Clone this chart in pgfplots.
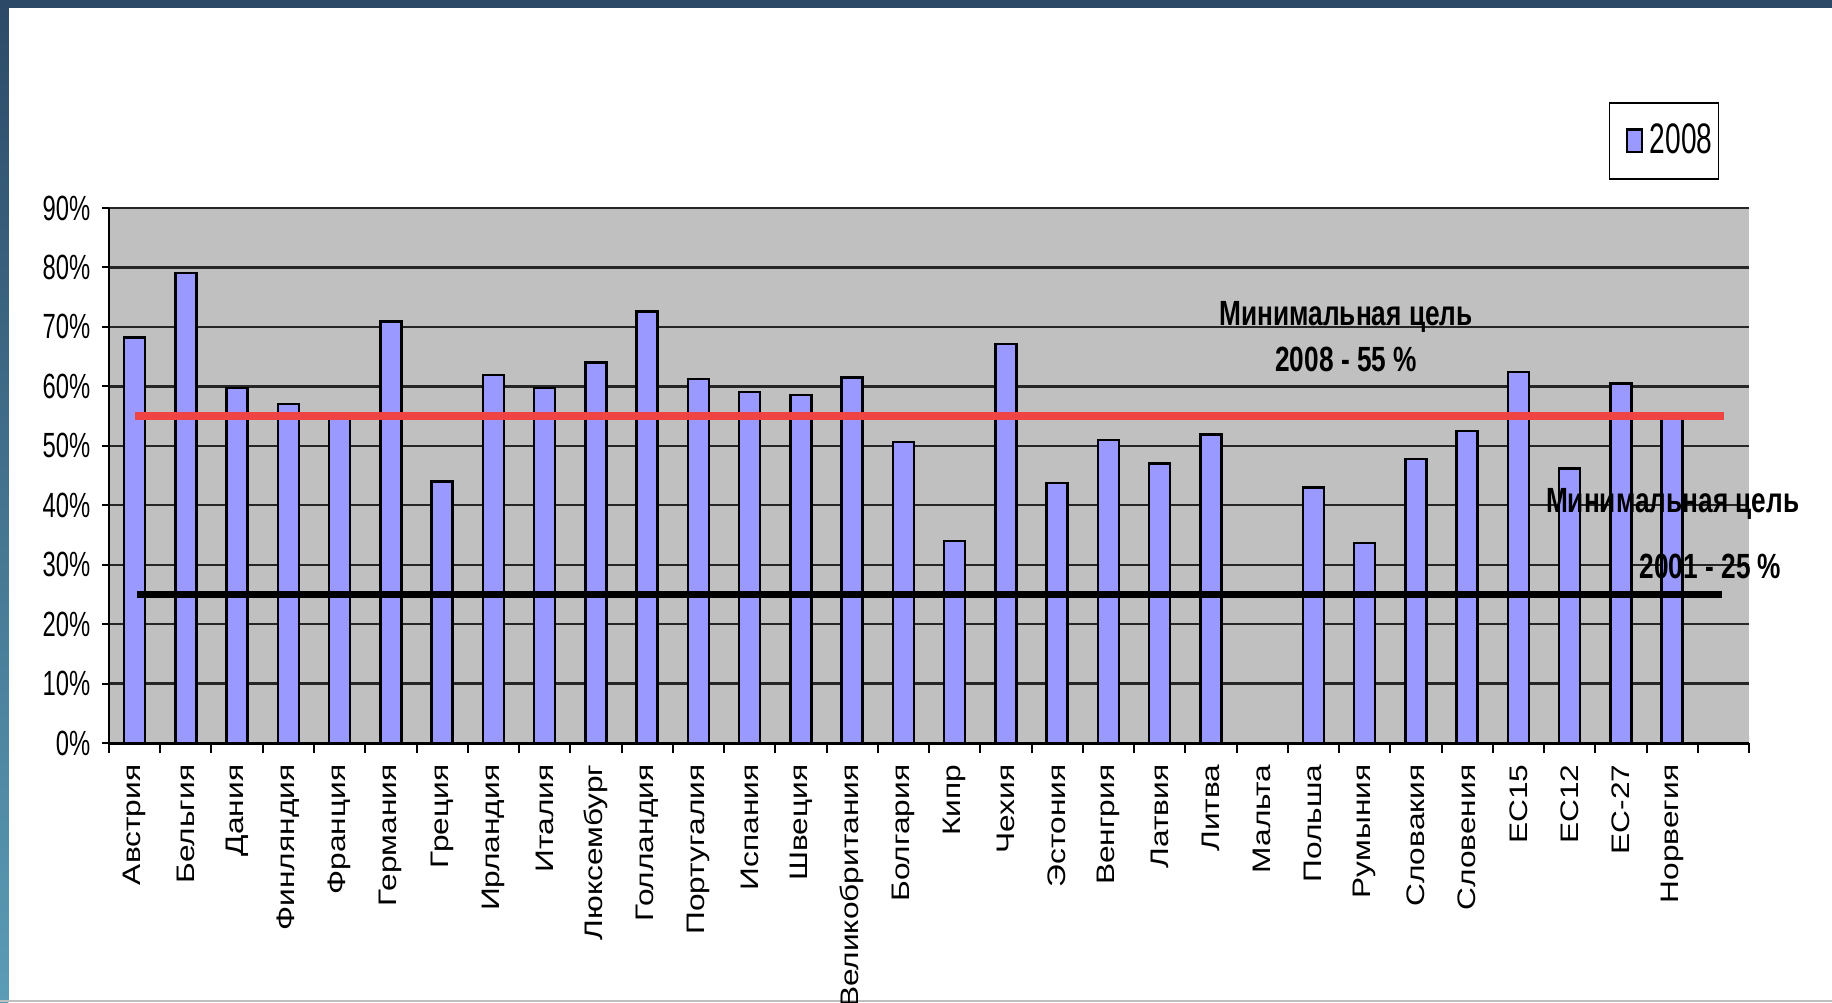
\documentclass[border=0pt]{standalone}
\usepackage{fontspec}
\setmainfont{Liberation Sans}
\newfontfamily\ytfont[FakeStretch=0.68]{Liberation Sans}
\newfontfamily\annfont[FakeStretch=0.75]{Liberation Sans}
\newfontfamily\legfont[FakeStretch=0.66]{Liberation Sans}
\newfontfamily\xtfont[FakeStretch=1.25]{Liberation Sans}
\usepackage{pgfplots}
\pgfplotsset{compat=1.18}

\definecolor{barBlue}{HTML}{9999FF}
\definecolor{plotGray}{HTML}{C0C0C0}
\definecolor{goalRed}{HTML}{EE4444}
\definecolor{frameTop}{HTML}{2C4A68}
\definecolor{frameBot}{HTML}{5B9CB6}

\begin{document}
\begin{tikzpicture}
  % slide frame, 1 px of the reference = 0.3pt
  \useasboundingbox (0,0) rectangle (549.6pt,300.6pt);
  \clip (0,0) rectangle (549.6pt,300.6pt);
  \fill[white] (0,0) rectangle (549.6pt,300.6pt);
  \shade[top color=frameTop, bottom color=frameBot] (0,0) rectangle (2.5pt,300.6pt);
  \fill[frameTop] (0,298.1pt) rectangle (549.6pt,300.6pt);
  \fill[black!25] (0,0) rectangle (549.6pt,0.6pt);

  \begin{axis}[
    at={(32.7pt,77.7pt)}, anchor=south west,
    scale only axis, width=492pt, height=160.5pt,
    xmin=-0.5, xmax=31.5, ymin=0, ymax=90,
    axis x line*=bottom, axis y line*=left,
    x axis line style={black, line width=0.9pt},
    y axis line style={black, line width=0.6pt},
    axis background/.style={fill=plotGray},
    tick align=outside,
    xtick={0,...,30},
    xticklabels={Австрия,Бельгия,Дания,Финляндия,Франция,Германия,Греция,
      Ирландия,Италия,Люксембург,Голландия,Португалия,Испания,Швеция,
      Великобритания,Болгария,Кипр,Чехия,Эстония,Венгрия,Латвия,Литва,
      Мальта,Польша,Румыния,Словакия,Словения,ЕС15,ЕС12,ЕС-27,Норвегия},
    minor xtick={-0.5,0.5,...,31.5},
    major x tick style={draw=none},
    minor x tick style={black, line width=0.6pt},
    minor tick length=3pt,
    ytick={0,10,...,90},
    yticklabels={0\%,10\%,20\%,30\%,40\%,50\%,60\%,70\%,80\%,90\%},
    major y tick style={black, line width=0.6pt},
    major tick length=2.1pt,
    ymajorgrids,
    major y grid style={black!85, line width=0.7pt},
    xticklabel style={rotate=90, anchor=east, inner sep=0pt,
      font=\xtfont\fontsize{7.6}{8}\selectfont},
    xticklabel shift=4.2pt,
    yticklabel style={inner sep=0pt, font=\ytfont\fontsize{10.5}{12}\selectfont},
    yticklabel shift=3.3pt,
    clip=false,
    legend style={at={(0.982,1.198)}, anchor=north east, draw=black,
      line width=0.5pt, fill=white, inner xsep=1.8pt, inner ysep=6.2pt,
      nodes={inner sep=0pt},
      font=\legfont\fontsize{12.8}{14}\selectfont},
    legend image code/.code={
      \path (-3pt,0pt);
      \draw[#1] (0pt,-3.4pt) rectangle (4.5pt,3.4pt);
      \path (6.6pt,0pt);},
  ]
    \addplot[ybar, bar width=6.3pt, fill=barBlue, draw=black, line width=0.7pt]
      coordinates {
        (0,68.2) (1,79.1) (2,59.7) (3,57.0) (4,55.0) (5,70.9) (6,44.0)
        (7,61.9) (8,59.7) (9,64.0) (10,72.6) (11,61.2) (12,59.0) (13,58.5)
        (14,61.5) (15,50.6) (16,34.0) (17,67.1) (18,43.7) (19,51.0) (20,47.0)
        (21,51.9) (23,43.0) (24,33.6) (25,47.8) (26,52.5) (27,62.4)
        (28,46.2) (29,60.5) (30,55.0)
      };
    \addlegendentry{2008}
    \addplot[goalRed, line width=2.3pt, forget plot]
      coordinates {(0,55) (31.01,55)};
    \addplot[black, line width=2.2pt, forget plot]
      coordinates {(0.05,25) (30.97,25)};

    \node[anchor=base, font=\annfont\bfseries\fontsize{10.5}{12}\selectfont]
      at (axis cs:23.64,70.3) {Минимальная цель};
    \node[anchor=base, font=\annfont\bfseries\fontsize{10.5}{12}\selectfont]
      at (axis cs:23.64,62.5) {2008 - 55 \%};
    \node[anchor=base, font=\annfont\bfseries\fontsize{10.5}{12}\selectfont]
      at (axis cs:30.01,38.8) {Минимальная цель};
    \node[anchor=base, font=\annfont\bfseries\fontsize{10.5}{12}\selectfont]
      at (axis cs:30.75,27.7) {2001 - 25 \%};
  \end{axis}
\end{tikzpicture}
\end{document}
